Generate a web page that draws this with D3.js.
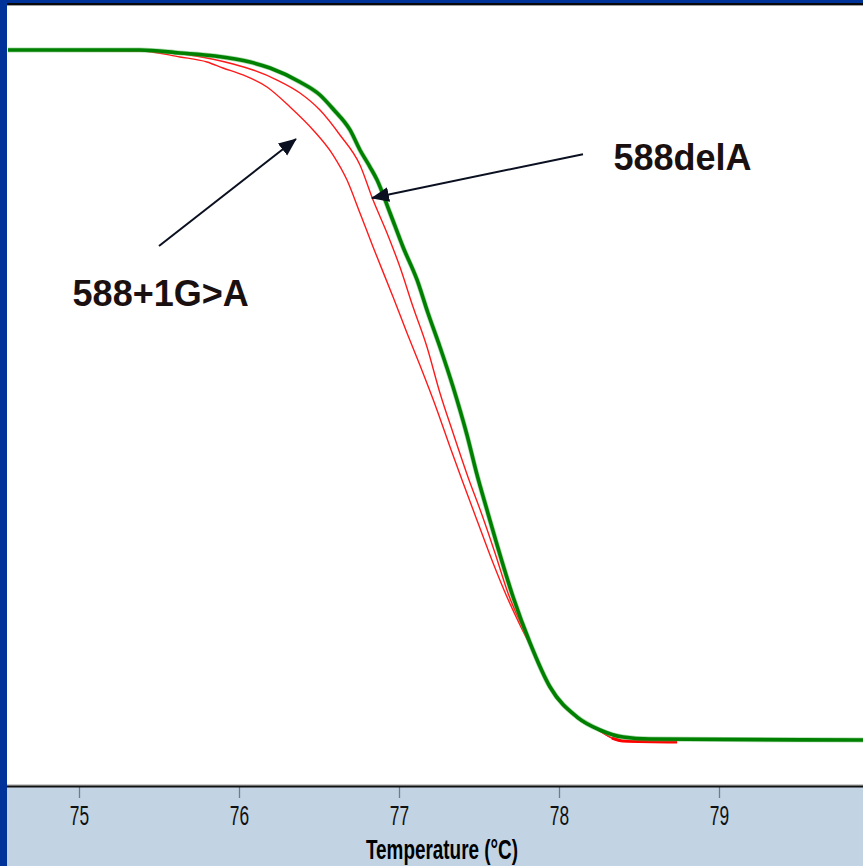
<!DOCTYPE html>
<html>
<head>
<meta charset="utf-8">
<script src="https://cdn.jsdelivr.net/npm/d3@7"></script>
<style>
  html, body { margin: 0; padding: 0; background: #ffffff; }
  svg { display: block; }
</style>
</head>
<body>
<div id="chart"></div>
<script>
// ---------- DATA (temperature in °C, normalized fluorescence in %) ----------
const xTicks = [75, 76, 77, 78, 79];
const xTitle = "Temperature (°C)";

// wild type (green)
const greenTemp = [74.556, 75.381, 75.631, 75.85, 76.069, 76.194, 76.381, 76.506, 76.588, 76.694, 76.756, 76.819, 76.863, 76.944, 77.025, 77.113, 77.181, 77.256, 77.338, 77.425, 77.488, 77.55, 77.613, 77.713, 77.819, 77.944, 78.113, 78.256, 78.4, 78.569, 79.9];
const greenFluo = [100, 100, 99.57, 99.13, 98.26, 97.39, 95.36, 93.48, 91.45, 88.41, 85.51, 83.04, 81.16, 76.38, 71.45, 66.67, 61.88, 56.96, 51.16, 44.2, 38.41, 33.33, 28.26, 20.72, 14.06, 7.68, 3.33, 1.45, 0.43, 0.14, 0];

// 588+1G>A (outer red)
const red1Temp = [74.556, 75.381, 75.631, 75.8, 75.9, 76.025, 76.175, 76.319, 76.463, 76.588, 76.675, 76.756, 76.838, 76.963, 77.05, 77.131, 77.238, 77.319, 77.394, 77.494, 77.588, 77.675, 77.756, 77.85, 77.944, 78.113, 78.256, 78.331, 78.4, 78.738];
const red1Fluo = [100, 99.86, 98.99, 98.26, 97.39, 96.38, 94.64, 91.74, 88.41, 84.78, 81.16, 76.38, 71.45, 64.2, 59.0, 54.3, 47.8, 42.46, 37.68, 31.45, 25.65, 20.72, 16.67, 12.32, 7.54, 3.19, 1.3, 0.29, -0.14, -0.29];

// 588delA (inner red)
const red2Temp = [74.556, 75.381, 75.694, 75.963, 76.088, 76.238, 76.381, 76.506, 76.631, 76.756, 76.838, 76.925, 77.006, 77.088, 77.175, 77.256, 77.338, 77.431, 77.519, 77.6, 77.681, 77.819, 77.944, 78.113, 78.256, 78.331, 78.4, 78.738];
const red2Fluo = [100, 100, 99.28, 97.97, 97.1, 95.65, 93.77, 91.3, 87.68, 83.33, 78.26, 73.48, 68.55, 62.75, 56.96, 50.29, 44.49, 38.12, 32.61, 27.1, 21.3, 14.06, 7.54, 3.19, 1.3, 0.29, -0.14, -0.29];

// annotations: label position and arrow from/to, in data units
const annoLabels = ["588+1G>A", "588delA"];
const annoLabelTemp = [74.96, 78.34];
const annoLabelFluo = [62.9, 82.6];
const annoFromTemp = [75.5, 78.15];
const annoFromFluo = [71.6, 84.9];
const annoToTemp = [76.356, 76.831];
const annoToFluo = [87.1, 78.55];

// ---------- LAYOUT ----------
const W = 863, H = 866;
const axisY = 787;

const svg = d3.select("#chart").append("svg")
  .attr("width", W).attr("height", H);

const x = d3.scaleLinear().domain([75, 79]).range([79, 719]);
const y = d3.scaleLinear().domain([0, 100]).range([740, 50]);

svg.append("rect").attr("x", 0).attr("y", 0).attr("width", W).attr("height", H).attr("fill", "#ffffff");
svg.append("rect").attr("x", 0).attr("y", axisY).attr("width", W).attr("height", H - axisY).attr("fill", "#c2d4e4");

svg.append("clipPath").attr("id", "plotclip")
  .append("rect").attr("x", 7).attr("y", 6).attr("width", W - 7).attr("height", axisY - 8);

const plot = svg.append("g").attr("clip-path", "url(#plotclip)");

const line = d3.line()
  .x(d => x(d[0]))
  .y(d => y(d[1]))
  .curve(d3.curveMonotoneX);

const zip = (a, b) => a.map((v, i) => [v, b[i]]);

plot.append("path").datum(zip(red1Temp, red1Fluo))
  .attr("d", line).attr("fill", "none").attr("stroke", "#ff1a1a").attr("stroke-width", 1.4);
plot.append("path").datum(zip(red2Temp, red2Fluo))
  .attr("d", line).attr("fill", "none").attr("stroke", "#ff1a1a").attr("stroke-width", 1.4);
plot.append("path").datum(zip(red1Temp, red1Fluo).filter(d => d[0] >= 78.3))
  .attr("d", line).attr("fill", "none").attr("stroke", "#ff0000").attr("stroke-width", 3);

plot.append("path").datum(zip(greenTemp, greenFluo))
  .attr("d", line).attr("fill", "none").attr("stroke", "#4caf50").attr("stroke-width", 5).attr("stroke-opacity", 0.45);
plot.append("path").datum(zip(greenTemp, greenFluo))
  .attr("d", line).attr("fill", "none").attr("stroke", "#008000").attr("stroke-width", 3.6);

const defs = svg.append("defs");
defs.append("marker")
  .attr("id", "ah")
  .attr("markerUnits", "userSpaceOnUse")
  .attr("viewBox", "0 0 18 16")
  .attr("markerWidth", 18).attr("markerHeight", 16)
  .attr("refX", 17).attr("refY", 8)
  .attr("orient", "auto")
  .append("path").attr("d", "M0,0.5 L18,8 L0,15.5 Z").attr("fill", "#0a1020");

annoLabels.forEach((lab, i) => {
  svg.append("line")
    .attr("x1", x(annoFromTemp[i])).attr("y1", y(annoFromFluo[i]))
    .attr("x2", x(annoToTemp[i])).attr("y2", y(annoToFluo[i]))
    .attr("stroke", "#0a1020").attr("stroke-width", 2)
    .attr("marker-end", "url(#ah)");
  svg.append("text")
    .attr("x", x(annoLabelTemp[i])).attr("y", y(annoLabelFluo[i]))
    .attr("font-family", "'Liberation Sans', Arial, sans-serif")
    .attr("font-weight", "bold")
    .attr("font-size", 36)
    .attr("fill", "#1a1010")
    .text(lab);
});

const axis = d3.axisBottom(x).tickValues(xTicks).tickSize(11).tickFormat(d3.format("d"));
const gx = svg.append("g").attr("transform", `translate(0,${axisY})`).call(axis);
gx.select(".domain").remove();
gx.selectAll(".tick line").attr("stroke", "#7a7a7a").attr("stroke-width", 1.3);
gx.selectAll(".tick text")
  .attr("y", 38).attr("dy", 0)
  .attr("font-family", "'Liberation Sans', Arial, sans-serif")
  .attr("font-size", 28)
  .attr("fill", "#111111")
  .attr("transform", "scale(0.62,1)");

svg.append("rect").attr("x", 0).attr("y", axisY - 2.5).attr("width", W).attr("height", 1).attr("fill", "#9a9a9a");
svg.append("rect").attr("x", 0).attr("y", axisY - 1.5).attr("width", W).attr("height", 2).attr("fill", "#111111");

svg.append("text")
  .attr("transform", `translate(442,859) scale(0.70,1)`)
  .attr("text-anchor", "middle")
  .attr("font-family", "'Liberation Sans', Arial, sans-serif")
  .attr("font-weight", "bold")
  .attr("font-size", 27)
  .attr("fill", "#000000")
  .text(xTitle);

svg.append("rect").attr("x", 0).attr("y", 0).attr("width", W).attr("height", 3).attr("fill", "#003399");
svg.append("rect").attr("x", 0).attr("y", 3).attr("width", W).attr("height", 2).attr("fill", "#0a0a0a");
svg.append("rect").attr("x", 0).attr("y", 5).attr("width", W).attr("height", 1).attr("fill", "#a0a0a0");
svg.append("rect").attr("x", 0).attr("y", 0).attr("width", 7).attr("height", H).attr("fill", "#003399");
</script>
</body>
</html>
